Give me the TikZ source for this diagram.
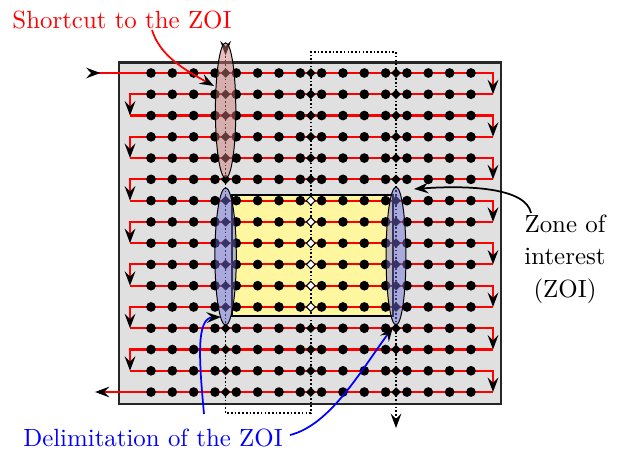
\documentclass[tikz,border=0pt]{standalone}
\usetikzlibrary{arrows.meta}
\definecolor{gridgray}{RGB}{224,224,224}
\definecolor{zoiyellow}{RGB}{255,247,160}
\definecolor{shortpink}{RGB}{205,120,120}
\definecolor{delimblue}{RGB}{110,110,215}
\begin{document}
\begin{tikzpicture}[x=0.402pt,y=-0.402pt,
  blacktip/.style={-{Stealth[length=5.8pt,width=4.3pt,inset=2.1pt,color=black]}},
  bothtips/.style={{Stealth[length=5.8pt,width=4.3pt,inset=2.1pt,color=black,reversed]}-{Stealth[length=5.8pt,width=4.3pt,inset=2.1pt,color=black]}},
  redline/.style={red,line width=0.85pt},
  frame/.style={draw=black!85,line width=1pt,fill=gridgray},
  zoibox/.style={draw=black,line width=0.8pt,fill=zoiyellow},
  dotline/.style={black,line width=0.65pt,dash pattern=on 0.65pt off 0.85pt},
  ovalbox/.style={draw=black,line width=0.4pt,fill opacity=0.48},
  annot/.style={line width=0.7pt}]
\useasboundingbox (0,0) rectangle (619,451);
% grid frame and zone of interest
\draw[frame] (119,62.5) rectangle (501,404);
\draw[zoibox] (232,195) rectangle (393,316);
% red serpentine path
\draw[redline,bothtips] (86,73) -- (493,73) -- (493,94.27);
\foreach \r in {1,...,14}{
  \pgfmathsetmacro\ya{73+21.27*\r}
  \pgfmathsetmacro\yb{\ya+21.27}
  \ifodd\r
    \draw[redline,blacktip] (493,\ya) -- (130,\ya) -- (130,\yb);
  \else
    \draw[redline,blacktip] (130,\ya) -- (493,\ya) -- (493,\yb);
  \fi
}
\draw[redline,blacktip] (493,392) -- (95,392);
% dots
\foreach \r in {0,...,15}{
  \foreach \c in {0,...,15}{
    \fill (151+21.33*\c,73+21.27*\r) circle[radius=1.95pt];
  }
}
% dotted partition line
\draw[dotline,bothtips] (225.6,41) -- (225.6,413) -- (310.8,413) -- (310.8,52) -- (396,52) -- (396,428);
% diamonds
\foreach \x in {225.6,310.8,396}{
  \foreach \r in {0,...,15}{
    \fill (\x,73+21.27*\r) ++(-4.8,0) -- ++(4.8,-4.8) -- ++(4.8,4.8) -- ++(-4.8,4.8) -- cycle;
  }
}
\foreach \r in {6,...,11}{
  \filldraw[fill=white,draw=black,line width=0.4pt] (310.8,73+21.27*\r) ++(-4.4,0) -- ++(4.4,-4.4) -- ++(4.4,4.4) -- ++(-4.4,4.4) -- cycle;
}
% ellipses
\draw[ovalbox,fill=shortpink] (225.6,110.5) ellipse [x radius=4.1pt,y radius=27.2pt];
\draw[ovalbox,fill=delimblue] (225.6,256.5) ellipse [x radius=4.3pt,y radius=27.6pt];
\draw[ovalbox,fill=delimblue] (396,256) ellipse [x radius=4pt,y radius=27.7pt];
% annotations
\node[text=red,inner sep=0pt] (shortcut) at (122,20) {Shortcut to the ZOI};
\coordinate (shortstart) at (152,30);
\coordinate (shorttip) at (214,86);
\draw[annot,red,blacktip] (shortstart) .. controls (160,56) and (185,70) .. (shorttip);
\node[align=center,inner sep=0pt] (zoitext) at (565,259) {Zone of\\[1pt] interest\\[1pt] (ZOI)};
\coordinate (zoistart) at (531,213);
\coordinate (zoitip) at (414,189);
\draw[annot,black,blacktip] (zoistart) .. controls (526,188) and (470,185) .. (zoitip);
\node[text=blue,inner sep=0pt] (delim) at (153,438) {Delimitation of the ZOI};
\coordinate (delimstartA) at (204,414);
\coordinate (delimtipA) at (221,317);
\coordinate (delimstartB) at (290,435);
\coordinate (delimtipB) at (393,327);
\draw[annot,blue,blacktip] (delimstartA) .. controls (199,360) and (196,318) .. (delimtipA);
\draw[annot,blue,blacktip] (delimstartB) .. controls (330,425) and (360,372) .. (delimtipB);
\end{tikzpicture}
\end{document}
